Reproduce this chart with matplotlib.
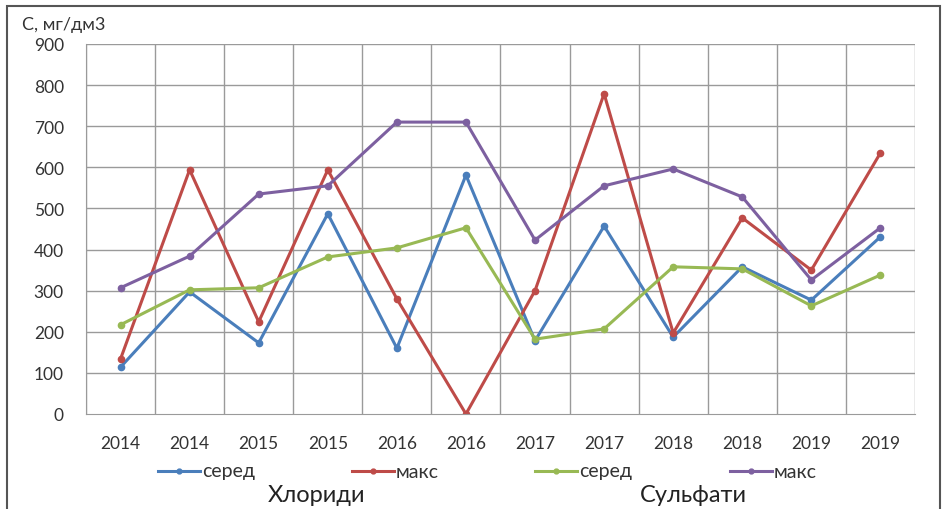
import matplotlib.pyplot as plt
from matplotlib.lines import Line2D
from matplotlib.patches import Rectangle

plt.rcParams['font.family'] = ['Lato', 'DejaVu Sans']

# роки відбору проб
years = ['2014', '2014', '2015', '2015', '2016', '2016',
         '2017', '2017', '2018', '2018', '2019', '2019']

# хлориди
cl_mean = [114, 297, 173, 487, 160, 581, 178, 457, 187, 358, 277, 431]
cl_max = [134, 594, 224, 594, 280, 0, 300, 779, 197, 477, 350, 635]

# сульфати
so4_mean = [217, 302, 307, 382, 404, 453, 182, 207, 358, 353, 263, 338]
so4_max = [307, 384, 535, 555, 710, 710, 423, 555, 596, 528, 326, 453]

c_blue = '#4a7ebb'
c_red = '#be4b48'
c_green = '#98b954'
c_purple = '#7d60a0'
txt_c = '#333333'

W, H = 942, 510
fig = plt.figure(figsize=(W / 100, H / 100), dpi=100)
ax = fig.add_axes([0.0913, 0.1863, 0.880, 0.7255])

x = list(range(len(years)))
style = dict(lw=2.2, marker='o', markersize=4.5)
ax.plot(x, cl_mean, color=c_blue, **style)
ax.plot(x, cl_max, color=c_red, **style)
ax.plot(x, so4_mean, color=c_green, **style)
ax.plot(x, so4_max, color=c_purple, **style)

ax.set_xlim(-0.5, len(years) - 0.5)
ax.set_ylim(0, 900)
ax.set_yticks(range(0, 901, 100))
ax.set_xticks(x)
ax.set_xticklabels(years)

for v in range(100, 901, 100):
    ax.axhline(v, color='#9a9a9a', lw=1, zorder=0)
for v in range(len(years) + 1):
    ax.axvline(v - 0.5, color='#9a9a9a', lw=1, zorder=0)

for s in ax.spines.values():
    s.set_visible(False)
for side in ('bottom', 'left'):
    ax.spines[side].set_visible(True)
    ax.spines[side].set_color('#9a9a9a')

ax.tick_params(axis='both', which='both', length=0, labelsize=12.5, colors=txt_c)
ax.tick_params(axis='y', pad=16)
ax.tick_params(axis='x', pad=15)

fig.text(22 / W, 1 - 25 / H, 'С, мг/дм3', fontsize=13, color=txt_c, ha='left', va='center')

# легенда: лінія з маркером і підпис
legend_items = [(158, c_blue, 'серед'), (352, c_red, 'макс'),
                (535, c_green, 'серед'), (730, c_purple, 'макс')]
ly = 1 - 472 / H
for x0, c, lab in legend_items:
    fig.add_artist(Line2D([x0 / W, (x0 + 42) / W], [ly, ly], color=c, lw=2.2,
                          transform=fig.transFigure))
    fig.add_artist(Line2D([(x0 + 21) / W], [ly], color=c, marker='o', markersize=3.5,
                          transform=fig.transFigure))
    fig.text((x0 + 44) / W, ly, lab, fontsize=14, color=txt_c, ha='left', va='center')

fig.text(317 / W, 1 - 496 / H, 'Хлориди', fontsize=17, color='#222222', ha='center', va='center')
fig.text(693 / W, 1 - 496 / H, 'Сульфати', fontsize=17, color='#222222', ha='center', va='center')

fig.patches.append(Rectangle((7 / W, -0.01), 933 / W, 1.01 - 7 / H, transform=fig.transFigure,
                             fill=False, edgecolor='#555555', lw=1.5))

fig.savefig('out.png', dpi=100)
